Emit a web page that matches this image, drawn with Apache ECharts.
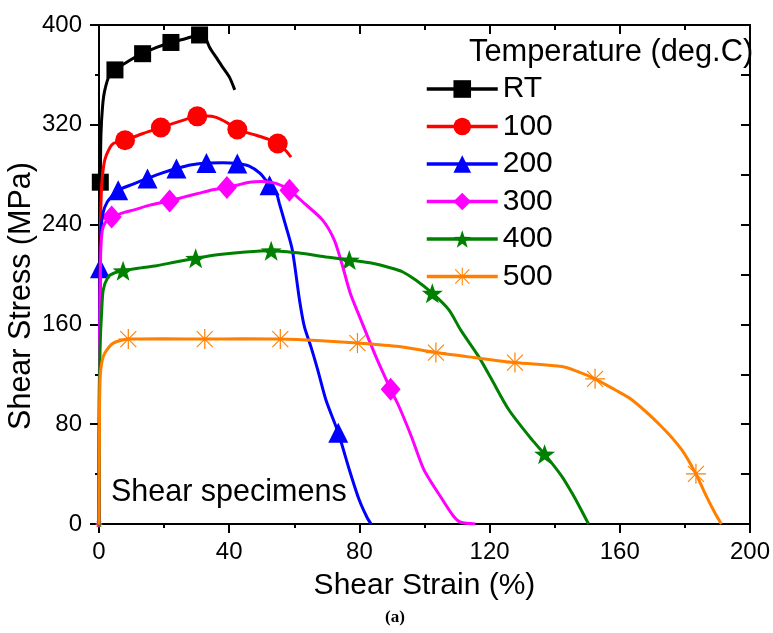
<!DOCTYPE html>
<html><head><meta charset="utf-8">
<script src="https://cdn.jsdelivr.net/npm/echarts@6/dist/echarts.min.js"></script>
<style>html,body{margin:0;padding:0;background:#fff}#c{width:773px;height:633px}</style>
</head><body><div id="c"></div>
<script>
// ---------- data ----------
const seriesNames = ['RT', '100', '200', '300', '400', '500'];
const xTicks = [0, 40, 80, 120, 160, 200];
const yTicks = [0, 80, 160, 240, 320, 400];

const curveRT = [[0,0],[0.15,120],[0.3,220],[0.4,274],[0.6,312],[1.1,335],[1.8,348],[3.4,361],[4.9,364],[9,371],[13.4,377],[17.7,382],[22.1,386],[26.5,389],[30.9,392],[32.5,390.5],[34,382],[36,374],[37.6,367.6],[40.1,358],[41.7,348]];
const markRT = [[0.4,274],[4.9,364],[13.4,377],[22.1,386],[30.9,392]];

const curve100 = [[0,0],[0.2,150],[0.4,230],[0.7,265],[1.1,280],[1.8,292],[3,300],[4.4,305],[8,307.6],[13.5,313],[19,317.8],[24.5,322.5],[30.2,326.8],[33,327],[36,326],[39.1,322],[42.5,316.2],[48.3,311.6],[52,308.5],[54.9,305],[57.5,299],[59,294]];
const mark100 = [[8,307.6],[19,317.8],[30.2,326.8],[42.5,316.2],[54.9,305]];

const curve200 = [[0,0],[0.15,130],[0.3,205],[0.6,235],[1.3,250],[2.5,258],[4,263],[5.9,267.6],[10.5,272.5],[14.9,277],[19.5,281.5],[23.8,285],[28.5,288],[33,289.4],[38,289.6],[42.5,289],[46,287],[49.5,281],[52.4,271.6],[54.4,266],[55.4,257],[57.5,238],[59.4,219.6],[61.6,179.6],[63.1,158.2],[65.1,142.2],[67.2,123.6],[69.7,99.6],[73.5,73.2],[76.9,43.6],[79.9,19.6],[82.4,5],[83.6,0]];
const mark200 = [[0.3,205],[5.9,267.6],[14.9,277],[23.8,285],[33,289.4],[42.5,289],[52.4,271.6],[73.5,73.2]];

const curve300 = [[0,0],[0.2,150],[0.5,215],[1,235],[2,242],[3.9,246],[8,250],[10.5,251.6],[15.6,255.6],[21.7,259],[26,262],[30.5,265],[35,268],[39.3,269.8],[43,272],[46.2,274],[50,274.5],[54.4,273],[58.5,267.6],[63.1,257],[68.7,243.6],[72.3,227.6],[74.8,207],[77.2,185],[80.4,164],[85.1,134],[89.6,108],[92.2,94],[96,70],[99.8,43.6],[105.5,19.6],[109,6],[111.1,1.4],[115.7,0]];
const mark300 = [[0,0],[3.9,246],[21.7,259],[39.3,269.8],[58.5,267.6],[89.6,108]];

const curve400 = [[0,0],[0.15,90],[0.3,140],[0.8,169],[1.3,187.6],[2.8,198],[4.5,201],[7.4,203],[12,205],[17.7,207],[23.5,210],[29.7,213],[37,216],[45,218],[52.9,219],[55.4,218.6],[62,217],[70,214],[76.9,211.6],[84,209],[90,205],[93.2,202.2],[97.3,195.6],[102.4,185],[107.5,171.6],[111.1,155.6],[116.7,134],[120.7,115.6],[125.9,91.6],[133,67.6],[136.9,56],[142.2,38.2],[145.5,24],[147.8,13],[150.4,0]];
const mark400 = [[0,0],[7.4,203],[29.7,213],[52.9,219],[76.9,211.6],[102.4,185],[136.9,56]];

const curve500 = [[0,0],[0.1,60],[0.3,115.6],[0.9,130],[1.8,137],[4.4,145],[9,148.2],[20,148.5],[32.5,148.2],[44,148.5],[55.7,148.2],[67,147],[79.4,145],[92.2,142.2],[103.5,137.4],[115,133.5],[127.8,129.4],[142.2,126.2],[146.3,123],[152.4,116.4],[158.5,107.6],[163.7,99.6],[172.8,78.2],[179,59.6],[183.4,40.2],[186.1,25],[189.2,9],[191.2,0]];
const mark500 = [[0,0],[9,148.2],[32.5,148.2],[55.7,148.2],[79.4,145],[103.5,137.4],[127.8,129.4],[152.4,116.4],[183.4,40.2]];

// ---------- styling ----------
const FONT = '"Liberation Sans", Arial, sans-serif';
const curves = [curveRT, curve100, curve200, curve300, curve400, curve500];
const marks = [markRT, mark100, mark200, mark300, mark400, mark500];
const colors = ['#000000', '#ff0000', '#0000ff', '#ff00ff', '#008000', '#ff8000'];
const STAR = 'path://M10 0L12.35 6.76L19.51 6.91L13.8 11.24L15.88 18.09L10 14L4.12 18.09L6.2 11.24L0.49 6.91L7.65 6.76Z';
const ASTER = 'path://M0 9.4L20 9.4L20 10.6L0 10.6Z M9.4 0L10.6 0L10.6 20L9.4 20Z M2.4 1.6L18.4 17.6L17.6 18.4L1.6 2.4Z M17.6 1.6L18.4 2.4L2.4 18.4L1.6 17.6Z';
const symbols = ['rect', 'circle', 'triangle', 'diamond', STAR, ASTER];
const sizes = [17, 20, 20, [20, 23], 21, 20];

const series = [];
seriesNames.forEach((n, i) => {
  series.push({
    type: 'line', name: n, data: curves[i], smooth: 0.25,
    showSymbol: false, symbol: symbols[i], color: colors[i],
    lineStyle: { width: 3, color: colors[i] }, itemStyle: { color: colors[i] },
    emphasis: { disabled: true }, silent: true, animation: false
  });
  series.push({
    type: 'scatter', name: n, symbol: symbols[i], symbolKeepAspect: true,
    data: marks[i].map(p => ({ value: p, symbolSize: (p[0] === 0 && p[1] === 0) ? 7 : sizes[i] })),
    color: colors[i], itemStyle: { color: colors[i], opacity: 1 },
    emphasis: { disabled: true }, silent: true, animation: false
  });
});

const axisLineStyle = { color: '#000', width: 2 };
const option = {
  animation: false,
  grid: { left: 99, right: 21, top: 25, bottom: 109, containLabel: false },
  xAxis: [
    { type: 'value', min: xTicks[0], max: xTicks[xTicks.length - 1], interval: 40, position: 'bottom',
      axisLine: { onZero: false, lineStyle: axisLineStyle },
      axisTick: { length: 9, lineStyle: { color: '#000', width: 2 } },
      minorTick: { show: true, splitNumber: 2, length: 4, lineStyle: { color: '#000', width: 2 } },
      axisLabel: { fontSize: 24, color: '#000', fontFamily: FONT, margin: 16 },
      splitLine: { show: false },
      name: 'Shear Strain (%)', nameLocation: 'middle', nameGap: 47,
      nameTextStyle: { fontSize: 30, color: '#000', fontFamily: FONT } },
    { type: 'value', min: 0, max: 200, interval: 40, position: 'top',
      axisLine: { onZero: false, lineStyle: axisLineStyle },
      axisTick: { inside: true, length: 9, lineStyle: { color: '#000', width: 2 } },
      minorTick: { show: true, splitNumber: 2, length: 5, lineStyle: { color: '#000', width: 2 } },
      axisLabel: { show: false }, splitLine: { show: false } }
  ],
  yAxis: [
    { type: 'value', min: yTicks[0], max: yTicks[yTicks.length - 1], interval: 80, position: 'left',
      axisLine: { onZero: false, lineStyle: axisLineStyle },
      axisTick: { length: 9, lineStyle: { color: '#000', width: 2 } },
      minorTick: { show: true, splitNumber: 2, length: 4, lineStyle: { color: '#000', width: 2 } },
      axisLabel: { fontSize: 24, color: '#000', fontFamily: FONT, margin: 17 },
      splitLine: { show: false } },
    { type: 'value', min: 0, max: 400, interval: 40, position: 'right',
      axisLine: { onZero: false, lineStyle: axisLineStyle },
      axisTick: { inside: true, length: 9, lineStyle: { color: '#000', width: 2 } },
      axisLabel: { show: false }, splitLine: { show: false } }
  ],
  legend: {
    data: seriesNames, orient: 'vertical', left: 425, top: 74, padding: 0,
    itemWidth: 71, itemHeight: 22, itemGap: 7.5,
    lineStyle: { width: 3.5 },
    textStyle: { fontSize: 30, color: '#000', fontFamily: FONT },
    selectedMode: false
  },
  graphic: [
    { type: 'text', x: 469, y: 52.5, silent: true,
      style: { text: 'Temperature (deg.C)', fontSize: 30.8, fontFamily: FONT, fill: '#000', align: 'left', verticalAlign: 'middle' } },
    { type: 'text', x: 111, y: 493, silent: true,
      style: { text: 'Shear specimens', fontSize: 30.5, fontFamily: FONT, fill: '#000', align: 'left', verticalAlign: 'middle' } },
    { type: 'text', x: 22, y: 296, rotation: Math.PI / 2, silent: true,
      style: { text: 'Shear Stress (MPa)', fontSize: 30.5, fontFamily: FONT, fill: '#000', align: 'center', verticalAlign: 'middle' } },
    { type: 'text', x: 395, y: 618, silent: true,
      style: { text: '(a)', fontSize: 17, fontWeight: 'bold', fontFamily: '"Liberation Serif", "DejaVu Serif", serif', fill: '#000', align: 'center', verticalAlign: 'middle' } }
  ],
  series: series
};
const chart = echarts.init(document.getElementById('c'), null, { renderer: 'canvas' });
chart.setOption(option);
</script>
</body></html>
